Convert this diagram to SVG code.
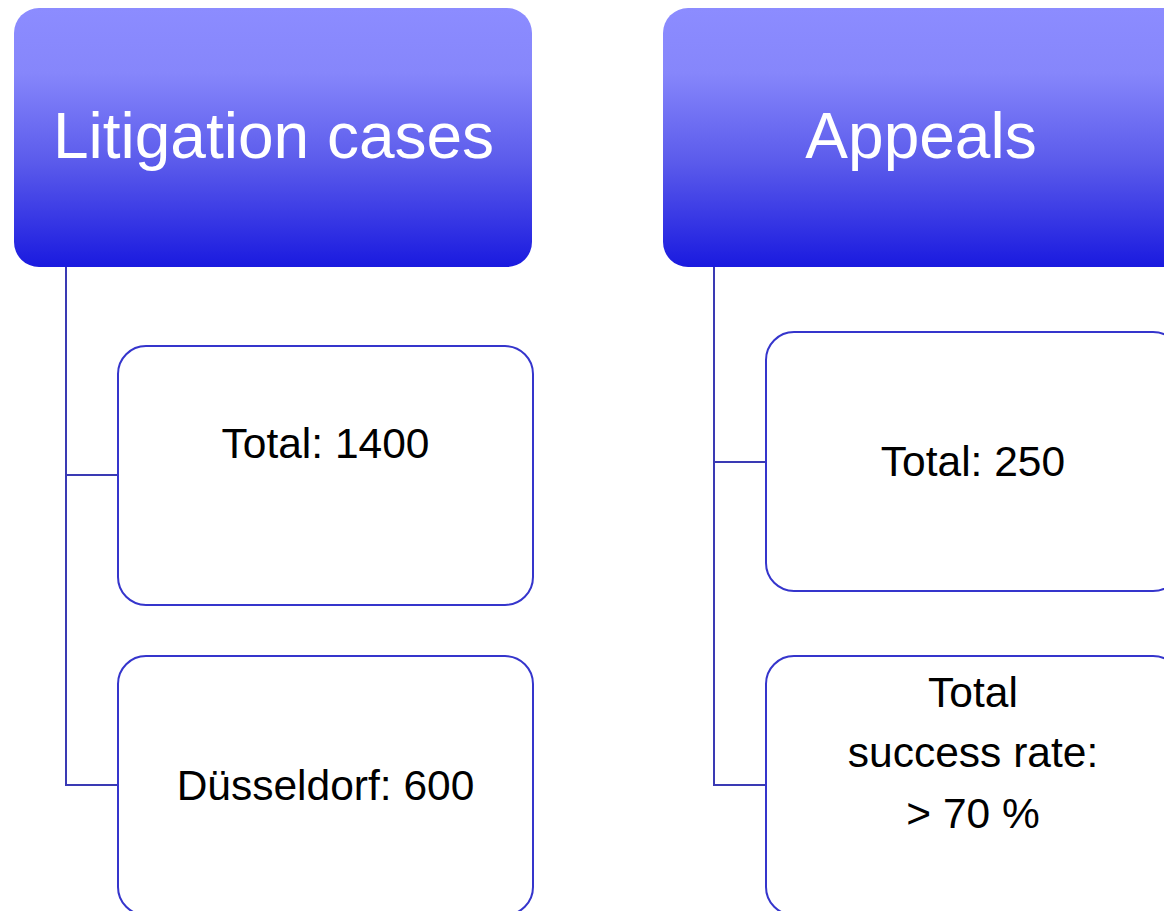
<svg xmlns="http://www.w3.org/2000/svg" width="1164" height="911" viewBox="0 0 1164 911">
<defs>
<linearGradient id="hg" x1="0" y1="0" x2="0" y2="1">
<stop offset="0" stop-color="#8C8CFF"/>
<stop offset="0.25" stop-color="#8686FB"/>
<stop offset="0.6" stop-color="#5A5AEB"/>
<stop offset="1" stop-color="#1A1ADF"/>
</linearGradient>
</defs>
<style>
.head{fill:url(#hg);stroke:none}
.child{fill:#FFFFFF;stroke:#3535CC;stroke-width:2}
.conn{fill:none;stroke:#3A3AB4;stroke-width:2}
.ht{font-family:"Liberation Sans",Arial,sans-serif;font-size:64px;fill:#FFFFFF;text-anchor:middle}
.ct{font-family:"Liberation Sans",Arial,sans-serif;font-size:42.5px;fill:#000000;text-anchor:middle}
</style>
<rect width="1164" height="911" fill="#FFFFFF"/>
<g id="connectors">
<path class="conn" d="M66 267 V785 H118 M66 475 H118"/>
<path class="conn" d="M714 267 V785 H766 M714 462 H766"/>
</g>
<g id="litigation">
<rect class="head" x="14" y="8" width="518" height="259" rx="25"/>
<text class="ht" x="273.5" y="158">Litigation cases</text>
</g>
<g id="appeals">
<rect class="head" x="663" y="8" width="530" height="259" rx="25"/>
<text class="ht" x="921" y="158">Appeals</text>
</g>
<g id="total1400">
<rect class="child" x="118" y="346" width="415" height="259" rx="28"/>
<text class="ct" x="325.5" y="458">Total: 1400</text>
</g>
<g id="duesseldorf">
<rect class="child" x="118" y="656" width="415" height="259" rx="28"/>
<text class="ct" x="325.5" y="800">Düsseldorf: 600</text>
</g>
<g id="total250">
<rect class="child" x="766" y="332" width="415" height="259" rx="28"/>
<text class="ct" x="973" y="476">Total: 250</text>
</g>
<g id="successrate">
<rect class="child" x="766" y="656" width="415" height="259" rx="28"/>
<text class="ct" x="973" y="707">Total</text>
<text class="ct" x="973" y="767">success rate:</text>
<text class="ct" x="973" y="828">&gt; 70 %</text>
</g>
</svg>
